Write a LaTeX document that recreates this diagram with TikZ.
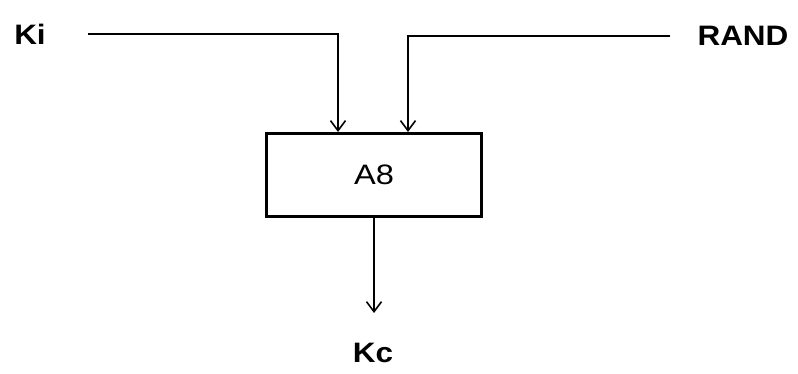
\documentclass[tikz,border=0pt]{standalone}
\usepackage{fontspec}
\setmainfont{Liberation Sans}
\usetikzlibrary{arrows.meta}
\newcommand\wlabel[2][1.12]{\scalebox{#1}[1]{#2}}

\begin{document}
\begin{tikzpicture}[x=.02cm,y=-.02cm,>={Straight Barb[length=2mm,width=3mm]},
  font=\fontsize{16}{18}\selectfont,
  wire/.style={line width=.9pt},
  sig/.style={font=\fontsize{16}{18}\selectfont\bfseries},
  algbox/.style={draw,line width=1.8pt,minimum width=4.3cm,minimum height=1.66cm}]
  \useasboundingbox (0,0) rectangle (798,373);

  % inputs and algorithm
  \node[sig] (ki) at (30,34) {\wlabel{Ki}};
  \node[sig] (rand) at (743,36) {\wlabel{RAND}};
  \node[algbox] (a8) at (374,175) {\wlabel[1.16]{A8}};
  \node[sig] (kc) at (373,353) {\wlabel{Kc}};

  % connectors
  \draw[wire,->,shorten <=.72cm] (ki.east) -| ([xshift=-.72cm]a8.north);
  \draw[wire,->,shorten <=.42cm] (rand.west) -| ([xshift=.68cm]a8.north);
  \draw[wire,->,shorten >=.48cm] (a8.south) -- (a8.south |- kc.north);
\end{tikzpicture}
\end{document}
